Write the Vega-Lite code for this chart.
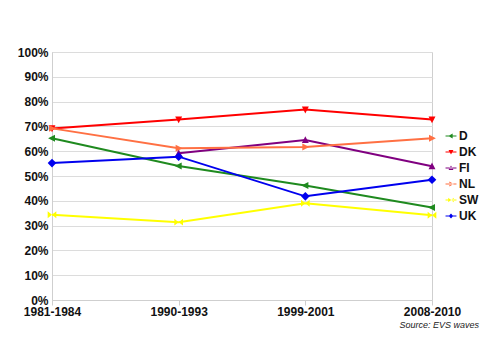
{
  "$schema": "https://vega.github.io/schema/vega-lite/v6.json",
  "autosize": "none",
  "width": 380,
  "height": 248,
  "padding": {"left": 52, "top": 52, "right": 68, "bottom": 54},
  "background": "white",
  "config": {
    "view": {"stroke": "#cfcfcf", "strokeWidth": 1},
    "font": "Liberation Sans"
  },
  "title": {
    "text": "Source: EVS waves",
    "orient": "bottom",
    "anchor": "end",
    "font": "Liberation Sans",
    "fontStyle": "italic",
    "fontWeight": "normal",
    "fontSize": 9,
    "color": "#222",
    "offset": 4
  },
  "data": {
    "values": [
      {"period": "1981-1984", "country": "D", "value": 65.2},
      {"period": "1990-1993", "country": "D", "value": 54.0},
      {"period": "1999-2001", "country": "D", "value": 46.2},
      {"period": "2008-2010", "country": "D", "value": 37.3},
      {"period": "1981-1984", "country": "DK", "value": 69.2},
      {"period": "1990-1993", "country": "DK", "value": 72.8},
      {"period": "1999-2001", "country": "DK", "value": 76.8},
      {"period": "2008-2010", "country": "DK", "value": 72.8},
      {"period": "1990-1993", "country": "FI", "value": 59.2},
      {"period": "1999-2001", "country": "FI", "value": 64.5},
      {"period": "2008-2010", "country": "FI", "value": 53.9},
      {"period": "1981-1984", "country": "NL", "value": 69.2},
      {"period": "1990-1993", "country": "NL", "value": 61.2},
      {"period": "1999-2001", "country": "NL", "value": 61.7},
      {"period": "2008-2010", "country": "NL", "value": 65.2},
      {"period": "1981-1984", "country": "SW", "value": 34.4},
      {"period": "1990-1993", "country": "SW", "value": 31.4},
      {"period": "1999-2001", "country": "SW", "value": 39.0},
      {"period": "2008-2010", "country": "SW", "value": 34.2},
      {"period": "1981-1984", "country": "UK", "value": 55.2},
      {"period": "1990-1993", "country": "UK", "value": 57.8},
      {"period": "1999-2001", "country": "UK", "value": 41.8},
      {"period": "2008-2010", "country": "UK", "value": 48.5}
    ]
  },
  "encoding": {
    "x": {
      "field": "period",
      "type": "ordinal",
      "scale": {"type": "point", "padding": 0},
      "axis": {
        "title": null,
        "labelAngle": 0,
        "labelFont": "Liberation Sans",
        "labelFontWeight": "bold",
        "labelFontSize": 12,
        "labelColor": "#111",
        "labelPadding": 1,
        "ticks": true,
        "tickSize": 5,
        "tickColor": "#cfcfcf",
        "domainColor": "#cfcfcf",
        "grid": false
      }
    },
    "y": {
      "field": "value",
      "type": "quantitative",
      "scale": {"domain": [0, 100], "nice": false},
      "axis": {
        "title": null,
        "values": [0, 10, 20, 30, 40, 50, 60, 70, 80, 90, 100],
        "labelExpr": "datum.value + '%'",
        "labelFont": "Liberation Sans",
        "labelFontWeight": "bold",
        "labelFontSize": 12,
        "labelColor": "#111",
        "labelPadding": 4,
        "ticks": false,
        "domainColor": "#cfcfcf",
        "gridColor": "#dcdcdc",
        "grid": true
      }
    },
    "color": {
      "field": "country",
      "type": "nominal",
      "scale": {
        "domain": ["D", "DK", "FI", "NL", "SW", "UK"],
        "range": ["#1f8a1f", "#ff0000", "#800080", "#ff7043", "#ffff00", "#0000ee"]
      },
      "legend": null
    }
  },
  "layer": [
    {
      "mark": {"type": "line", "strokeWidth": 2}
    },
    {
      "mark": {"type": "point", "filled": true, "size": 75, "opacity": 1},
      "encoding": {
        "shape": {
          "field": "country",
          "type": "nominal",
          "scale": {
            "domain": ["D", "DK", "FI", "NL", "SW", "UK"],
            "range": [
              "M-0.9,0L0.7,-0.8L0.7,0.8Z",
              "M-0.8,-0.7L0.8,-0.7L0,0.9Z",
              "M-0.8,0.7L0.8,0.7L0,-0.9Z",
              "M0.9,0L-0.7,-0.8L-0.7,0.8Z",
              "M-1,-0.8L0,0L-1,0.8Z M1,-0.8L0,0L1,0.8Z",
              "diamond"
            ]
          },
          "legend": null
        }
      }
    },
    {
      "transform": [{"filter": "false"}],
      "mark": {"type": "point", "filled": true, "opacity": 1},
      "encoding": {
        "color": {
          "field": "country",
          "type": "nominal",
          "scale": {
            "domain": ["D", "DK", "FI", "NL", "SW", "UK"],
            "range": ["#1f8a1f", "#ff0000", "#800080", "#ff7043", "#ffff00", "#0000ee"]
          },
          "legend": {
            "title": null,
            "orient": "none",
            "legendX": 393,
            "legendY": 78,
            "labelFont": "Liberation Sans",
            "labelFontWeight": "bold",
            "labelFontSize": 12,
            "labelColor": "#111",
            "labelOffset": 2,
            "symbolSize": 120,
            "rowPadding": 4,
            "symbolStrokeWidth": 0
          }
        },
        "shape": {
          "field": "country",
          "type": "nominal",
          "scale": {
            "domain": ["D", "DK", "FI", "NL", "SW", "UK"],
            "range": [
              "M-1,-0.1H1V0.1H-1Z M-0.5,0L0.3,-0.45L0.3,0.45Z",
              "M-1,-0.1H1V0.1H-1Z M-0.45,-0.35L0.45,-0.35L0,0.45Z",
              "M-1,-0.1H1V0.1H-1Z M-0.45,0.35L0.45,0.35L0,-0.45Z",
              "M-1,-0.1H1V0.1H-1Z M0.5,0L-0.3,-0.45L-0.3,0.45Z",
              "M-1,-0.1H1V0.1H-1Z M-0.5,-0.4L0,0L-0.5,0.4Z M0.5,-0.4L0,0L0.5,0.4Z",
              "M-1,-0.1H1V0.1H-1Z M0,-0.45L0.4,0L0,0.45L-0.4,0Z"
            ]
          },
          "legend": {
            "title": null,
            "orient": "none",
            "legendX": 393,
            "legendY": 78,
            "labelFont": "Liberation Sans",
            "labelFontWeight": "bold",
            "labelFontSize": 12,
            "labelColor": "#111",
            "labelOffset": 2,
            "symbolSize": 120,
            "rowPadding": 4,
            "symbolStrokeWidth": 0
          }
        }
      }
    }
  ],
  "resolve": {"scale": {"shape": "independent", "color": "independent"}}
}
